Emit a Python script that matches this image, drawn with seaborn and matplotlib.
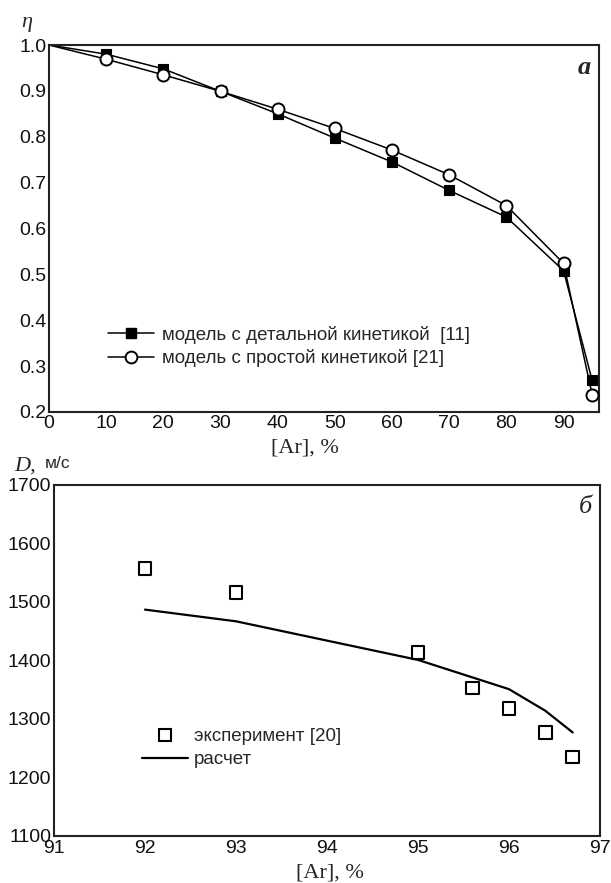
import matplotlib
matplotlib.use("Agg")
import matplotlib.pyplot as plt
import seaborn as sns
import pandas as pd
from matplotlib.lines import Line2D

# ---- data (panel a) ----
ar_a = [0, 10, 20, 30, 40, 50, 60, 70, 80, 90, 95]
eta_detailed = [1.0, 0.980, 0.948, 0.899, 0.850, 0.797, 0.745, 0.683, 0.625, 0.508, 0.269]
eta_simple = [1.0, 0.969, 0.935, 0.899, 0.860, 0.818, 0.771, 0.717, 0.650, 0.524, 0.238]
label_detailed = "модель с детальной кинетикой  [11]"
label_simple = "модель с простой кинетикой [21]"

# ---- data (panel б) ----
ar_exp = [92, 93, 95, 95.6, 96, 96.4, 96.7]
d_exp = [1557, 1516, 1414, 1353, 1318, 1277, 1235]
ar_calc = [92, 93, 95, 95.6, 96, 96.4, 96.7]
d_calc = [1487, 1467, 1401, 1371, 1351, 1314, 1277]
label_exp = "эксперимент [20]"
label_calc = "расчет"

xticks_a = [0, 10, 20, 30, 40, 50, 60, 70, 80, 90]
yticks_a = [0.2, 0.3, 0.4, 0.5, 0.6, 0.7, 0.8, 0.9, 1.0]
xticks_b = [91, 92, 93, 94, 95, 96, 97]
yticks_b = [1100, 1200, 1300, 1400, 1500, 1600, 1700]

sns.set_style("white")
plt.rcParams["font.family"] = ["Liberation Sans", "DejaVu Sans"]

W, H = 611, 883
fig = plt.figure(figsize=(W / 100, H / 100), dpi=100)

def ax_rect(l, r, t, b):
    return [l / W, 1 - b / H, (r - l) / W, (b - t) / H]

ax1 = fig.add_axes(ax_rect(49, 599, 45, 412))
ax2 = fig.add_axes(ax_rect(54, 600, 485, 836))

df_a = pd.DataFrame({"ar": ar_a, "det": eta_detailed, "sim": eta_simple})
lw = 1.1
sns.lineplot(data=df_a, x="ar", y="det", ax=ax1, color="black", lw=lw, legend=False)
sns.lineplot(data=df_a, x="ar", y="sim", ax=ax1, color="black", lw=lw, legend=False)
sns.scatterplot(data=df_a.iloc[1:], x="ar", y="det", ax=ax1, marker="s", s=60,
                color="black", edgecolor="black", linewidth=0.8, zorder=3, legend=False)
sns.scatterplot(data=df_a.iloc[1:], x="ar", y="sim", ax=ax1, marker="o", s=75,
                facecolor="white", edgecolor="black", linewidth=1.4, zorder=4, legend=False)

ax1.set_xlim(0, 96.2)
ax1.set_ylim(0.2, 1.0)
ax1.set_xticks(xticks_a)
ax1.set_yticks(yticks_a)
ax1.set_yticklabels([f"{v:.1f}" for v in yticks_a])
ax1.set_xlabel("")
ax1.set_ylabel("")

h1 = [Line2D([], [], color="black", lw=lw, marker="s", markersize=7.5,
             markerfacecolor="black"),
      Line2D([], [], color="black", lw=lw, marker="o", markersize=8.5,
             markerfacecolor="white", markeredgewidth=1.4)]
leg1 = ax1.legend(h1, [label_detailed, label_simple], loc="center left",
                  bbox_to_anchor=(0.107, 0.178), frameon=False, fontsize=13.5,
                  handlelength=2.45, handletextpad=0.45, labelspacing=0.3,
                  borderpad=0, borderaxespad=0)

df_exp = pd.DataFrame({"ar": ar_exp, "d": d_exp})
df_calc = pd.DataFrame({"ar": ar_calc, "d": d_calc})
sns.lineplot(data=df_calc, x="ar", y="d", ax=ax2, color="black", lw=1.6, legend=False)
sns.scatterplot(data=df_exp, x="ar", y="d", ax=ax2, marker="s", s=80,
                facecolor="none", edgecolor="black", linewidth=1.5, zorder=3, legend=False)
ax2.set_xlim(91, 97)
ax2.set_ylim(1100, 1700)
ax2.set_xticks(xticks_b)
ax2.set_yticks(yticks_b)
ax2.set_xlabel("")
ax2.set_ylabel("")

h2 = [Line2D([], [], ls="none", marker="s", markersize=8.5, markerfacecolor="none",
             markeredgecolor="black", markeredgewidth=1.5),
      Line2D([], [], color="black", lw=1.6)]
leg2 = ax2.legend(h2, [label_exp, label_calc], loc="center left",
                  bbox_to_anchor=(0.162, 0.25), frameon=False, fontsize=13.5,
                  handlelength=2.45, handletextpad=0.3, labelspacing=0.3,
                  borderpad=0, borderaxespad=0)

for ax in (ax1, ax2):
    for sp in ax.spines.values():
        sp.set_linewidth(1.5)
        sp.set_color("#222222")
    ax.tick_params(labelsize=14, colors="#111111", pad=2)

ax1.tick_params(axis="both", direction="in", length=6, width=1.2)
ax2.tick_params(axis="both", direction="in", length=0)
ax2.tick_params(axis="x", pad=3)

# panel letters
ax1.text(0.985, 0.97, "a", transform=ax1.transAxes, ha="right", va="top",
         fontsize=19, fontstyle="italic", fontweight="bold", family="Liberation Serif")
ax2.text(0.985, 0.97, "б", transform=ax2.transAxes, ha="right", va="top",
         fontsize=19, fontstyle="italic", family="Liberation Serif")

# axis labels
fig.text(305 / W, 1 - 448 / H, "[Ar], %", ha="center", va="center", fontsize=16,
         family="Liberation Serif")
fig.text(330 / W, 1 - 873 / H, "[Ar], %", ha="center", va="center", fontsize=16,
         family="Liberation Serif")
fig.text(27 / W, 1 - 22 / H, "η", ha="center", va="center", fontsize=16,
         fontstyle="italic", family=["Liberation Serif", "DejaVu Serif"])
fig.text(14 / W, 1 - 466 / H, "D,", ha="left", va="center", fontsize=16,
         fontstyle="italic", family="Liberation Serif")
fig.text(45 / W, 1 - 464 / H, "м/с", ha="left", va="center", fontsize=12.5)

fig.savefig("out.png", dpi=100)
